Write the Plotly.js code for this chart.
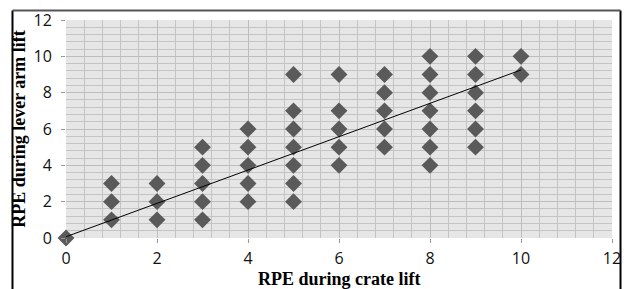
<!DOCTYPE html>
<html>
<head>
<meta charset="utf-8">
<script src="https://cdn.plot.ly/plotly-3.0.1.min.js"></script>
<style>
html,body{margin:0;padding:0;background:#fff;overflow:hidden;}
#chart{width:627px;height:289px;}
</style>
</head>
<body>
<div id="chart"></div>
<script>
// RPE during crate lift (x) vs RPE during lever arm lift (y)
const crateRPE = [0, 1,1,1, 2,2,2, 3,3,3,3,3, 4,4,4,4,4, 5,5,5,5,5,5,5, 6,6,6,6,6, 7,7,7,7,7, 8,8,8,8,8,8,8, 9,9,9,9,9,9, 10,10];
const leverRPE = [0, 1,2,3, 1,2,3, 1,2,3,4,5, 2,3,4,5,6, 2,3,4,5,6,7,9, 4,5,6,7,9, 5,6,7,8,9, 4,5,6,7,8,9,10, 5,6,7,8,9,10, 9,10];
// trend line endpoints
const trendX = [0, 10];
const trendY = [0.07, 9.25];
const tickVals = [0, 2, 4, 6, 8, 10, 12];
const xTitle = 'RPE during crate lift';
const yTitle = 'RPE during lever arm lift';

const traces = [
  {
    x: crateRPE, y: leverRPE, type: 'scatter', mode: 'markers', cliponaxis: false,
    marker: {symbol: 'diamond', size: 13, color: '#5a5a5a', line: {width: 0}},
    hoverinfo: 'x+y', showlegend: false
  },
  {
    x: trendX, y: trendY, type: 'scatter', mode: 'lines', cliponaxis: false,
    line: {color: '#000000', width: 1}, hoverinfo: 'skip', showlegend: false
  }
];

const tickFont = {family: '"Open Sans", sans-serif', size: 16, color: '#111'};
const titleFont = {family: '"Liberation Serif", "Times New Roman", serif', size: 18, color: '#000', weight: 'bold'};

const layout = {
  width: 627, height: 289,
  margin: {l: 66, r: 15, t: 20, b: 51, pad: 0},
  paper_bgcolor: '#ffffff',
  plot_bgcolor: '#e6e6e6',
  showlegend: false,
  xaxis: {
    range: [0, 12], tickvals: tickVals, ticktext: tickVals.map(String),
    showgrid: true, gridcolor: '#bdbdbd', gridwidth: 1,
    minor: {dtick: 0.4, tick0: 0, showgrid: true, gridcolor: '#c4c4c4', gridwidth: 1},
    zeroline: false, showline: false,
    ticks: 'outside', ticklen: 4, tickcolor: '#999', tickwidth: 1,
    tickfont: tickFont, ticklabelstandoff: 2,
    automargin: false, fixedrange: true
  },
  yaxis: {
    range: [0, 12], tickvals: tickVals, ticktext: tickVals.map(String),
    showgrid: true, gridcolor: '#bdbdbd', gridwidth: 1,
    minor: {dtick: 0.4, tick0: 0, showgrid: true, gridcolor: '#c4c4c4', gridwidth: 1},
    zeroline: false, showline: false,
    ticks: 'outside', ticklen: 4, tickcolor: '#999', tickwidth: 1,
    tickfont: tickFont, ticklabelstandoff: 6,
    title: {text: '<b>' + yTitle + '</b>', font: titleFont, standoff: 3},
    automargin: false, fixedrange: true
  },
  annotations: [
    {text: '<b>' + xTitle + '</b>', xref: 'paper', yref: 'paper', x: 0.5, y: 0,
     xanchor: 'center', yanchor: 'top', yshift: -29, showarrow: false, font: titleFont}
  ],
  shapes: [
    {type: 'line', xref: 'paper', yref: 'paper', x0: -0.0980, x1: -0.0980, y0: 1.0436, y1: -0.4, line: {color: '#000', width: 2}},
    {type: 'line', xref: 'paper', yref: 'paper', x0: 1.0156, x1: 1.0156, y0: 1.0436, y1: -0.4, line: {color: '#000', width: 2}},
    {type: 'line', xref: 'paper', yref: 'paper', x0: -0.0980, x1: 1.0156, y0: 1.0436, y1: 1.0436, line: {color: '#555', width: 2}}
  ]
};

Plotly.newPlot('chart', traces, layout, {displayModeBar: false, staticPlot: true});
</script>
</body>
</html>
